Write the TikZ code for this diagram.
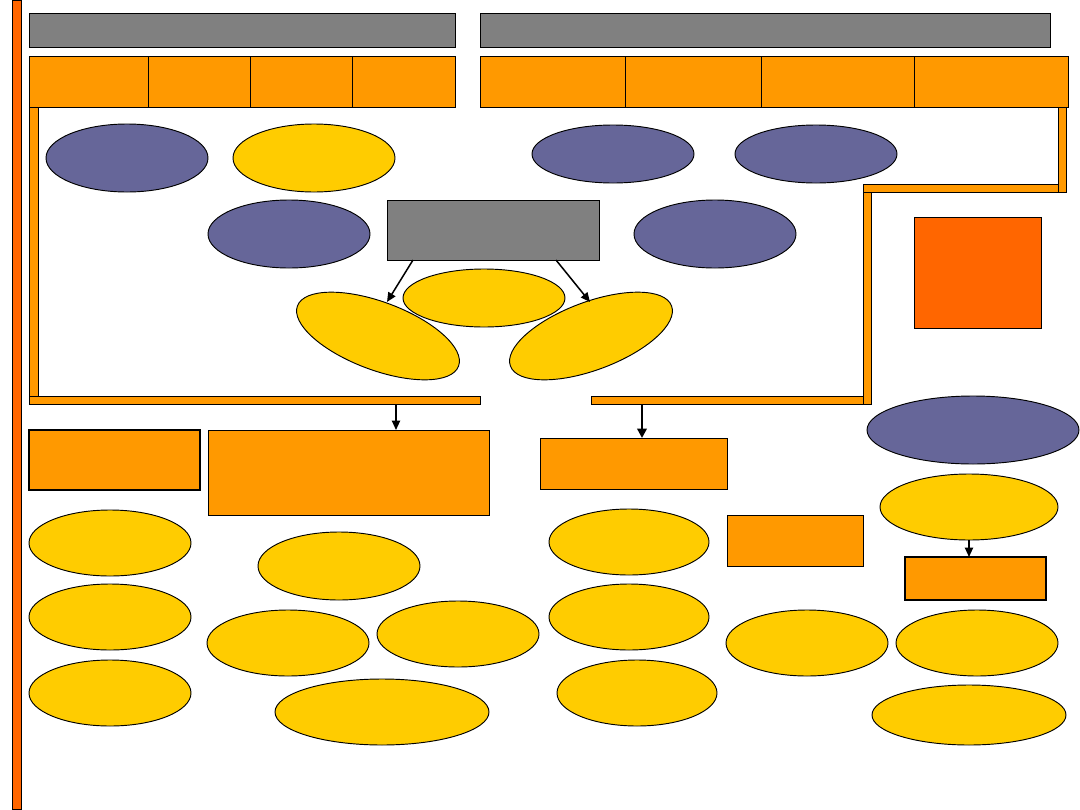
\documentclass[tikz,border=0pt]{standalone}
\usetikzlibrary{shapes.geometric,arrows.meta}
\definecolor{hdr}{HTML}{FF9900}
\definecolor{redor}{HTML}{FF6600}
\definecolor{grayb}{HTML}{808080}
\definecolor{bluee}{HTML}{666699}
\definecolor{yell}{HTML}{FFCC00}
\newcommand\boxat[6]{\node[#6, minimum width={(#4-#2)*0.03cm}, minimum height={(#5-#3)*0.03cm}] (#1) at ({(#2+#4)/2},{(#3+#5)/2}) {};}
\newcommand\ellat[7]{\node[ell, fill=#6, minimum width={2*#4*0.03cm}, minimum height={2*#5*0.03cm}, rotate=#7] (#1) at (#2,#3) {};}
\begin{document}
\begin{tikzpicture}[x=0.03cm,y=-0.03cm,
  rbox/.style={draw=black, line width=0.8pt, inner sep=0pt, outer sep=0pt, rectangle},
  ob/.style={rbox, fill=hdr},
  obt/.style={rbox, fill=hdr, line width=1.5pt},
  gb/.style={rbox, fill=grayb},
  rb/.style={rbox, fill=redor},
  ell/.style={ellipse, draw=black, line width=0.8pt, inner sep=0pt, outer sep=0pt},
  arr/.style={-{Triangle[length=8pt,width=7pt]}, line width=1.3pt},
  arrb/.style={-{Triangle[length=8pt,width=8pt]}, line width=2.2pt}]
\useasboundingbox (0,0) rectangle (1080,810);
% left bar
\boxat{lbar}{12}{0}{21}{809}{rb}
% gray bars
\boxat{g1}{29}{13}{455}{47}{gb}
\boxat{g2}{480}{13}{1050}{47}{gb}
% frame
\boxat{fr1}{29}{107}{38}{404}{ob}
\boxat{fr2}{29}{396}{480}{404}{ob}
\boxat{fr3}{591}{396}{871}{404}{ob}
\boxat{fr4}{863}{184}{871}{404}{ob}
\boxat{fr5}{863}{184}{1066}{192}{ob}
\boxat{fr6}{1058}{107}{1066}{192}{ob}
% header rows
\boxat{h1}{29}{56}{148}{107}{ob}
\boxat{h2}{148}{56}{250}{107}{ob}
\boxat{h3}{250}{56}{352}{107}{ob}
\boxat{h4}{352}{56}{455}{107}{ob}
\boxat{h5}{480}{56}{625}{107}{ob}
\boxat{h6}{625}{56}{761}{107}{ob}
\boxat{h7}{761}{56}{914}{107}{ob}
\boxat{h8}{914}{56}{1068}{107}{ob}
% top ellipses
\ellat{e1}{127}{158}{81}{34}{bluee}{0}
\ellat{e2}{314}{158}{81}{34}{yell}{0}
\ellat{e3}{613}{154}{81}{29}{bluee}{0}
\ellat{e4}{816}{154}{81}{29}{bluee}{0}
\ellat{e5}{289}{234}{81}{34}{bluee}{0}
\ellat{e6}{715}{234}{81}{34}{bluee}{0}
% centre gray box
\boxat{gc}{387}{200}{599}{260}{gb}
% red box
\boxat{rr}{914}{217}{1041}{328}{rb}
% centre ellipses
\ellat{ec}{484}{298}{81}{29}{yell}{0}
\ellat{el}{378}{336}{86}{34}{yell}{-20.5}
\ellat{er}{591}{336}{86}{34}{yell}{20.5}
\coordinate (ga1) at (413,260);
\coordinate (ge1) at (387,302);
\coordinate (ga2) at (556,260);
\coordinate (ge2) at (590,302);
\draw[arr] (ga1) -- (ge1);
\draw[arr] (ga2) -- (ge2);
% bottom boxes
\boxat{b1}{29}{430}{200}{490}{obt}
\boxat{b2}{208}{430}{489}{515}{ob}
\boxat{b3}{540}{438}{727}{489}{ob}
\boxat{b4}{727}{515}{863}{566}{ob}
\boxat{b5}{905}{557}{1046}{600}{obt}
\coordinate (d1) at (396,404);
\coordinate (d2) at (642,404);
\draw[arr] (d1) -- (d1 |- b2.north);
\draw[arrb] (d2) -- (d2 |- b3.north);
% big blue ellipse
\ellat{eb}{973}{430}{106}{34}{bluee}{0}
% bottom yellow ellipses
\ellat{y1}{110}{543}{81}{33}{yell}{0}
\ellat{y2}{110}{617}{81}{33}{yell}{0}
\ellat{y3}{110}{693}{81}{33}{yell}{0}
\ellat{y4}{339}{566}{81}{34}{yell}{0}
\ellat{y5}{288}{643}{81}{33}{yell}{0}
\ellat{y6}{458}{634}{81}{33}{yell}{0}
\ellat{y7}{382}{712}{107}{33}{yell}{0}
\ellat{y8}{629}{542}{80}{33}{yell}{0}
\ellat{y9}{629}{617}{80}{33}{yell}{0}
\ellat{y10}{637}{693}{80}{33}{yell}{0}
\ellat{y11}{807}{643}{81}{33}{yell}{0}
\ellat{y12}{969}{507}{89}{33}{yell}{0}
\ellat{y13}{977}{643}{81}{33}{yell}{0}
\ellat{y14}{969}{715}{97}{30}{yell}{0}
\draw[arr] (y12.south) -- (y12.south |- b5.north);
\end{tikzpicture}
\end{document}
